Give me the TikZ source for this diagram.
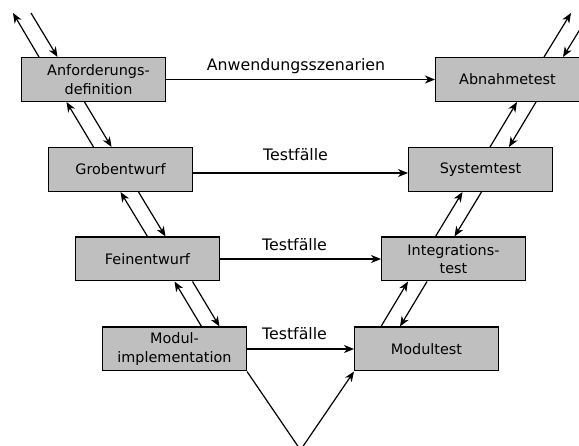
\documentclass[tikz,border=0pt]{standalone}
\usepackage{fontspec}
\setmainfont{DejaVu Sans}
\usetikzlibrary{arrows.meta}
\begin{document}
\begin{tikzpicture}[x=1pt,y=-1pt,
  box/.style={draw=black, line width=1.4pt, fill=black!25, minimum width=143.6pt, minimum height=43.6pt, inner sep=0pt, font=\fontsize{14.4}{18.5}\selectfont, align=center},
  boxtext/.style={inner sep=0pt, font=\fontsize{14.4}{18.5}\selectfont, align=center},
  lbl/.style={font=\fontsize{15.8}{19}\selectfont, anchor=base, inner sep=0pt},
  conn/.style={line width=1.2pt, -{Stealth[length=10pt,width=8pt,inset=3pt]}},
  plainline/.style={line width=1.2pt}]
\path[use as bounding box] (0,0) rectangle (579,446);
\fill[white] (0,0) rectangle (579,446);
\clip (0,0) rectangle (579,446);

% boxes
\node[box] (anf) at (93.5,79.5) {};
\node[boxtext] (anftext) at (98.5,79.5) {Anforderungs-\\definition};
\node[box] (grob) at (120.5,169.5) {Grobentwurf};
\node[box] (fein) at (147.5,259) {Feinentwurf};
\node[box] (modul) at (174.5,349) {Modul-\\implementation};
\node[box] (abn) at (507.5,79.5) {Abnahmetest};
\node[box] (sys) at (480.5,169.5) {Systemtest};
\node[box] (integ) at (453.5,259) {Integrations-\\test};
\node[box] (modt) at (426.5,349) {Modultest};

% free ends
\coordinate (lu) at (13,13);
\coordinate (ld) at (31,13);
\coordinate (ru) at (571,13);
\coordinate (rd) at (590,13);
\coordinate (vb) at (300.5,450);

% left diagonal
\draw[conn] ([xshift=18]anf.north west) -- (lu);
\draw[conn] (ld) -- ([xshift=36.5]anf.north west);
\draw[conn] ([xshift=45.5]grob.north west) -- ([xshift=45.5]anf.south west);
\draw[conn] ([xshift=63.5]anf.south west) -- ([xshift=63.5]grob.north west);
\draw[conn] ([xshift=72.5]fein.north west) -- ([xshift=72.5]grob.south west);
\draw[conn] ([xshift=90.5]grob.south west) -- ([xshift=90.5]fein.north west);
\draw[conn] ([xshift=99.5]modul.north west) -- ([xshift=99.5]fein.south west);
\draw[conn] ([xshift=117.5]fein.south west) -- ([xshift=117.5]modul.north west);

% right diagonal
\draw[conn] ([xshift=27]modt.north west) -- ([xshift=27]integ.south west);
\draw[conn] ([xshift=46]integ.south west) -- ([xshift=46]modt.north west);
\draw[conn] ([xshift=54.5]integ.north west) -- ([xshift=54.5]sys.south west);
\draw[conn] ([xshift=73.5]sys.south west) -- ([xshift=73.5]integ.north west);
\draw[conn] ([xshift=82]sys.north west) -- ([xshift=82]abn.south west);
\draw[conn] ([xshift=101]abn.south west) -- ([xshift=101]sys.north west);
\draw[conn] ([xshift=109]abn.north west) -- (ru);
\draw[conn] (rd) -- ([xshift=128]abn.north west);

% horizontal
\draw[conn] (anf) -- (abn);
\draw[conn] ([yshift=-3.5]grob.east) -- ([yshift=-3.5]sys.west);
\draw[conn] (fein) -- (integ);
\draw[conn] (modul) -- (modt);

% bottom V
\draw[plainline] (modul.south east) -- (vb);
\draw[conn] (vb) -- (modt.south west);

% labels
\node[lbl] (l1) at (296,70.7) {Anwendungsszenarien};
\node[lbl] (l2) at (295.5,160.7) {Testfälle};
\node[lbl] (l3) at (294.5,250.7) {Testfälle};
\node[lbl] (l4) at (294.5,340) {Testfälle};
\end{tikzpicture}
\end{document}
